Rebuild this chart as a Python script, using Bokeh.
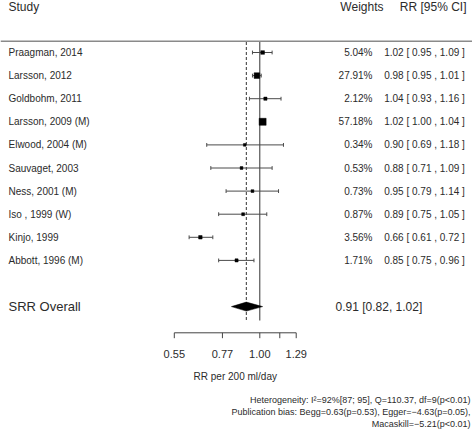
import numpy as np
from bokeh.plotting import figure
from bokeh.models import Range1d
from bokeh.core.properties import value
from bokeh.embed import file_html
from bokeh.resources import INLINE

# ---------------- data ----------------
studies = ["Praagman, 2014", "Larsson, 2012", "Goldbohm, 2011", "Larsson, 2009 (M)",
           "Elwood, 2004 (M)", "Sauvaget, 2003", "Ness, 2001 (M)", "Iso , 1999 (W)",
           "Kinjo, 1999", "Abbott, 1996 (M)"]
rr = [1.02, 0.98, 1.04, 1.02, 0.90, 0.88, 0.95, 0.89, 0.66, 0.85]
ci_low = [0.95, 0.95, 0.93, 1.00, 0.69, 0.71, 0.79, 0.75, 0.61, 0.75]
ci_high = [1.09, 1.01, 1.16, 1.04, 1.18, 1.09, 1.14, 1.05, 0.72, 0.96]
weights = [5.04, 27.91, 2.12, 57.18, 0.34, 0.53, 0.73, 0.87, 3.56, 1.71]

overall_label = "SRR Overall"
overall_rr = 0.91
overall_low = 0.82
overall_high = 1.02

tick_values = [0.55, 0.77, 1.00, 1.15, 1.29]
tick_labels = ["0.55", "0.77", "1.00", "", "1.29"]
axis_title = "RR per 200 ml/day"
header_study = "Study"
header_weights = "Weights"
header_ci = "RR [95% CI]"
footnotes = ["Heterogeneity: I\u00b2=92%[87; 95], Q=110.37, df=9(p<0.01)",
             "Publication bias: Begg=0.63(p=0.53), Egger=\u22124.63(p=0.05),",
             "Macaskill=\u22125.21(p<0.01)"]

# ---------------- layout helpers (picture pixels -> data) ----------------
W, H = 472, 432
OFF = 0
X_ONE = 259.3
PX_PER_LN = 143.0
Y_ROW0 = 52.0
ROW_PX = 23.1
n = len(studies)
top_row = n + 2


def px(page_x):
    return float(np.exp((page_x - X_ONE) / PX_PER_LN))


def py(page_y):
    return top_row + (Y_ROW0 - page_y) / ROW_PX


FONT = value("Liberation Sans")
TXT = "#2b2b2b"

p = figure(width=W, height=H, output_backend="svg", toolbar_location=None,
           x_axis_type="log", x_axis_location=None, y_axis_location=None,
           x_range=Range1d(px(OFF), px(OFF + W)),
           y_range=Range1d(py(OFF + H), py(OFF)),
           min_border=0, outline_line_color=None)
p.grid.visible = False
p.background_fill_color = "white"
p.border_fill_color = "white"

row_y = [top_row - i for i in range(n)]
overall_y = row_y[-1] - 2

# header
p.text(x=[px(8)], y=[py(6)], text=[header_study], text_font=FONT, text_font_size="12px",
       text_color=TXT, text_align="left", text_baseline="middle")
p.text(x=[px(383)], y=[py(6)], text=[header_weights], text_font=FONT, text_font_size="12px",
       text_color=TXT, text_align="right", text_baseline="middle")
p.text(x=[px(466)], y=[py(6)], text=[header_ci], text_font=FONT, text_font_size="12px",
       text_color=TXT, text_align="right", text_baseline="middle")
p.segment(x0=[px(0)], y0=[py(40.7)], x1=[px(W)], y1=[py(40.7)],
          line_color="#8a8a8a", line_width=1.5)

# reference lines
line_bottom = py(320)
p.segment(x0=[1.0], y0=[py(41.5)], x1=[1.0], y1=[line_bottom], line_color="#333333", line_width=1)
p.segment(x0=[overall_rr], y0=[py(41.5)], x1=[overall_rr], y1=[line_bottom],
          line_color="#333333", line_width=1, line_dash="3 2")

# study rows
p.text(x=[px(8)] * n, y=row_y, text=studies, text_font=FONT, text_font_size="10px",
       text_color=TXT, text_align="left", text_baseline="middle")
p.text(x=[px(372)] * n, y=row_y, text=[f"{w:.2f}%" for w in weights], text_font=FONT,
       text_font_size="10px", text_color=TXT, text_align="right", text_baseline="middle")
p.text(x=[px(383.7)] * n, y=row_y,
       text=[f"{r:.2f} [ {l:.2f} , {h:.2f} ]" for r, l, h in zip(rr, ci_low, ci_high)],
       text_font=FONT, text_font_size="10px", text_color=TXT, text_align="left",
       text_baseline="middle")

cap = 1.9 / ROW_PX
p.segment(x0=ci_low, y0=row_y, x1=ci_high, y1=row_y, line_color="#4a4a4a", line_width=1)
p.segment(x0=ci_low, y0=[y - cap for y in row_y], x1=ci_low, y1=[y + cap for y in row_y],
          line_color="#4a4a4a", line_width=1)
p.segment(x0=ci_high, y0=[y - cap for y in row_y], x1=ci_high, y1=[y + cap for y in row_y],
          line_color="#4a4a4a", line_width=1)
sizes = [2.3 + 0.62 * np.sqrt(w) for w in weights]
p.scatter(x=rr, y=row_y, size=sizes, marker="square", fill_color="black",
          line_color="black", line_width=0.5)

# overall
dh = 4.5 / ROW_PX
p.patch(x=[overall_low, overall_rr, overall_high, overall_rr],
        y=[overall_y, overall_y + dh, overall_y, overall_y - dh],
        fill_color="black", line_color="black", line_width=0.5)
p.text(x=[px(8)], y=[overall_y], text=[overall_label], text_font=FONT, text_font_size="13px",
       text_color=TXT, text_align="left", text_baseline="middle")
p.text(x=[px(335)], y=[overall_y],
       text=[f"{overall_rr:.2f} [{overall_low:.2f}, {overall_high:.2f}]"],
       text_font=FONT, text_font_size="12px", text_color=TXT, text_align="left",
       text_baseline="middle")

# x axis (drawn through the log scale)
ax_y = py(332.3)
tick_len = 5.4 / ROW_PX
p.segment(x0=[tick_values[0]], y0=[ax_y], x1=[tick_values[-1]], y1=[ax_y],
          line_color="#444444", line_width=1)
p.segment(x0=tick_values, y0=[ax_y] * len(tick_values), x1=tick_values,
          y1=[ax_y - tick_len] * len(tick_values), line_color="#444444", line_width=1)
p.text(x=tick_values, y=[py(353)] * len(tick_values), text=tick_labels, text_font=FONT,
       text_font_size="11px", text_color=TXT, text_align="center", text_baseline="middle")
p.text(x=[float(np.sqrt(tick_values[0] * tick_values[-1]))], y=[py(376)], text=[axis_title],
       text_font=FONT, text_font_size="10px", text_color=TXT, text_align="center",
       text_baseline="middle")

# footnotes
p.text(x=[px(470)] * len(footnotes), y=[py(399), py(411), py(423)], text=footnotes,
       text_font=FONT, text_font_size="9px", text_color=TXT, text_align="right",
       text_baseline="middle")

open("out.html", "w").write(file_html(p, INLINE))
